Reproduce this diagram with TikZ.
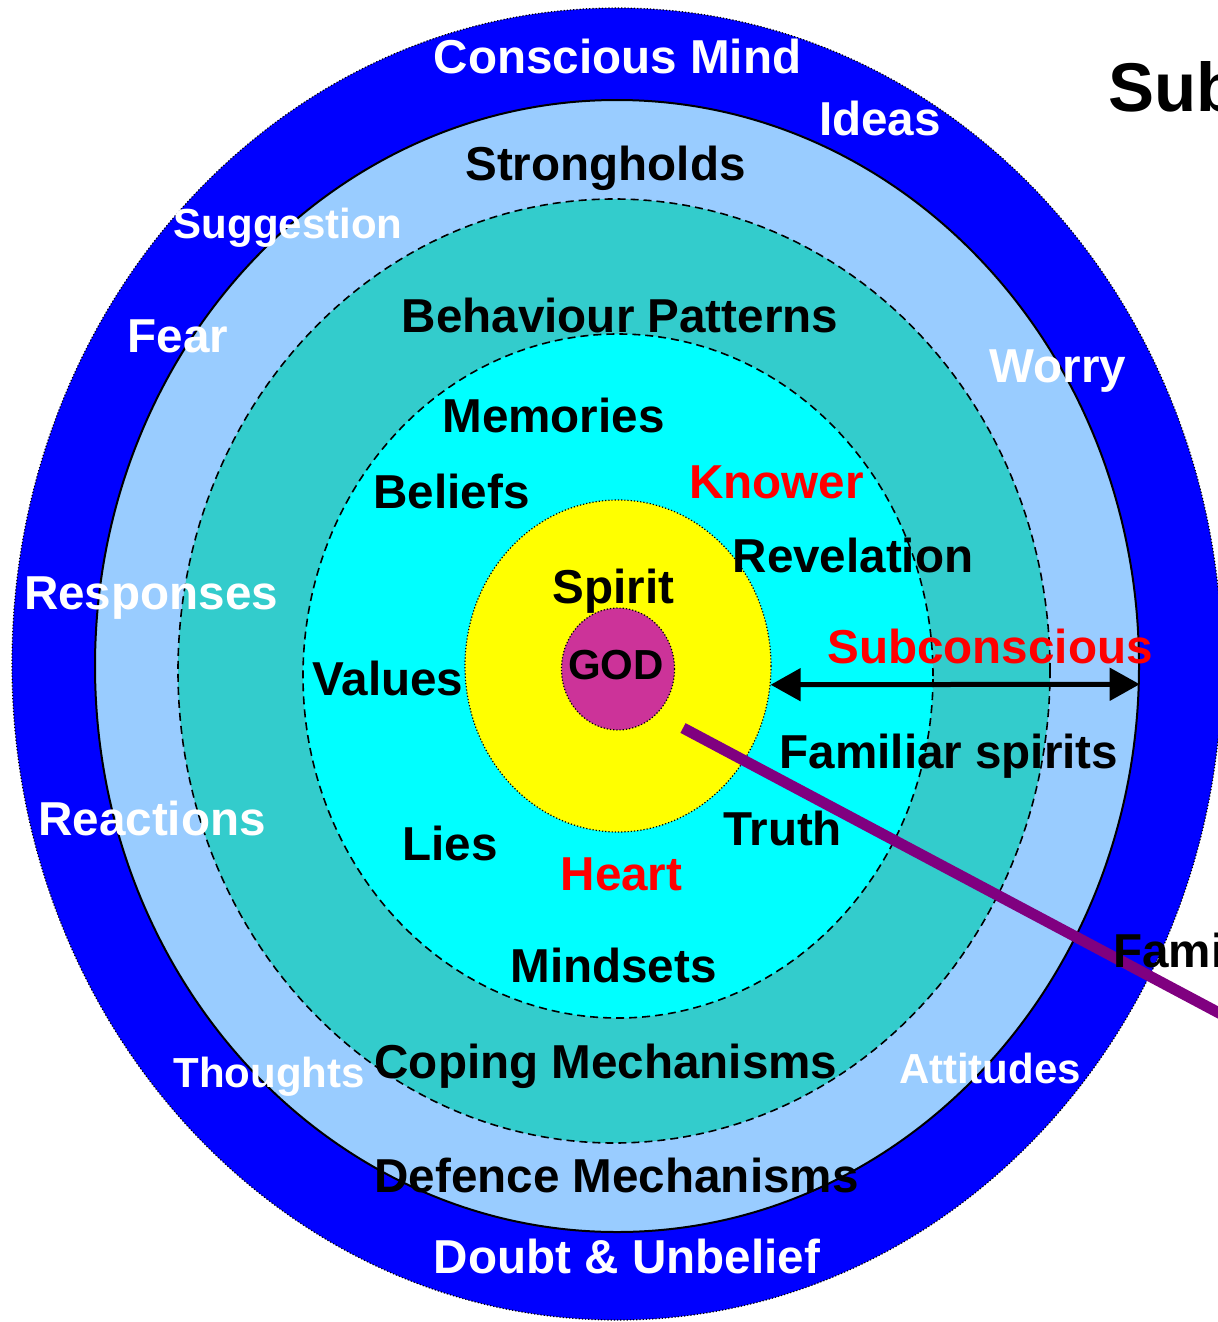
\documentclass[tikz,border=0pt]{standalone}
\usepackage{fontspec}
\setmainfont{Liberation Sans}
\usetikzlibrary{arrows.meta,shapes.geometric}
\definecolor{outerblue}{HTML}{0000FF}
\definecolor{paleblue}{HTML}{99CCFF}
\definecolor{tealring}{HTML}{33CCCC}
\definecolor{cyanring}{HTML}{00FFFF}
\definecolor{goldcore}{HTML}{FFFF00}
\definecolor{godpink}{HTML}{CC3399}
\definecolor{leadpurple}{HTML}{800080}
\definecolor{hotred}{HTML}{FF0000}

\begin{document}
\begin{tikzpicture}[x=0.5pt,y=-0.5pt,
    ring/.style = {ellipse, inner sep=0pt, draw=black},
    dashring/.style = {ring, line width=0.8pt, dash pattern=on 4pt off 2.5pt},
    dotring/.style = {ring, line width=0.6pt, densely dotted},
    lbl/.style = {anchor=base, inner sep=0pt, font=\bfseries\fontsize{23.8}{28}\selectfont},
    lblsmall/.style = {lbl, font=\bfseries\fontsize{21}{25}\selectfont},
    lblwhite/.style = {lbl, text=white},
    lblred/.style = {lbl, text=hotred}]
\useasboundingbox (0,0) rectangle (1218,1322);

\node[dotring, fill=outerblue, minimum width=605pt, minimum height=656pt] (conscious) at (617,664) {};
\node[ring, line width=1pt, fill=paleblue, minimum width=522pt, minimum height=566pt] (defence) at (617,666) {};
\node[dashring, fill=tealring, minimum width=436pt, minimum height=472pt] (coping) at (614,671) {};
\node[dashring, fill=cyanring, minimum width=315pt, minimum height=342pt] (heart) at (618,676) {};
\node[dotring, fill=goldcore, minimum width=153pt, minimum height=166pt] (spirit) at (618,666) {};
\node[dotring, fill=godpink, minimum width=56.5pt, minimum height=61pt] (god) at (618,669) {};

\coordinate (leadstart) at (683,728);
\coordinate (leadend) at (1300,1056);
\draw[line width=5.5pt, leadpurple] (leadstart) -- (leadend);
\draw[line width=2.5pt, {Triangle[length=15pt,width=16pt]}-{Triangle[length=15pt,width=16pt]}]
    (spirit.-7) -- (defence.-2);

\node[lblwhite] (consciousmind) at (617.5,74) {Conscious Mind};
\node[lblwhite] (ideas) at (880,135) {Ideas};
\node[lbl, anchor=base west, font=\bfseries\fontsize{34.5}{40}\selectfont] (subtitle) at (1108,112) {Sub};
\node[lbl] (strongholds) at (605.5,180) {Strongholds};
\node[lblwhite, lblsmall] (suggestion) at (288,238) {Suggestion};
\node[lblwhite] (fear) at (178,352) {Fear};
\node[lbl] (behaviour) at (620,332) {Behaviour Patterns};
\node[lblwhite] (worry) at (1058,382) {Worry};
\node[lbl] (memories) at (553.5,432) {Memories};
\node[lbl] (beliefs) at (451.5,508) {Beliefs};
\node[lblred] (knower) at (776.5,498) {Knower};
\node[lbl] (revelation) at (853,572) {Revelation};
\node[lbl] (spiritlbl) at (613.5,603) {Spirit};
\node[lblsmall] (godlbl) at (616,679) {GOD};
\node[lblwhite] (responses) at (151,609) {Responses};
\node[lbl] (values) at (388,695) {Values};
\node[lblred] (subconscious) at (990,663) {Subconscious};
\node[lbl] (familiar) at (949,768) {Familiar spirits};
\node[lblwhite] (reactions) at (152,835) {Reactions};
\node[lbl] (truth) at (782.5,845) {Truth};
\node[lbl] (lies) at (450,860) {Lies};
\node[lblred] (heartlbl) at (621.5,890) {Heart};
\node[lbl] (mindsets) at (613.5,982) {Mindsets};
\node[lblwhite, lblsmall] (thoughts) at (269,1087) {Thoughts};
\node[lbl] (copinglbl) at (606,1078) {Coping Mechanisms};
\node[lblwhite, lblsmall] (attitudes) at (990,1083) {Attitudes};
\node[lbl] (defencelbl) at (616.5,1192) {Defence Mechanisms};
\node[lblwhite] (doubt) at (627,1273) {Doubt \& Unbelief};
\node[lbl, anchor=base west] (fami) at (1113,967) {Fami};
\end{tikzpicture}
\end{document}
